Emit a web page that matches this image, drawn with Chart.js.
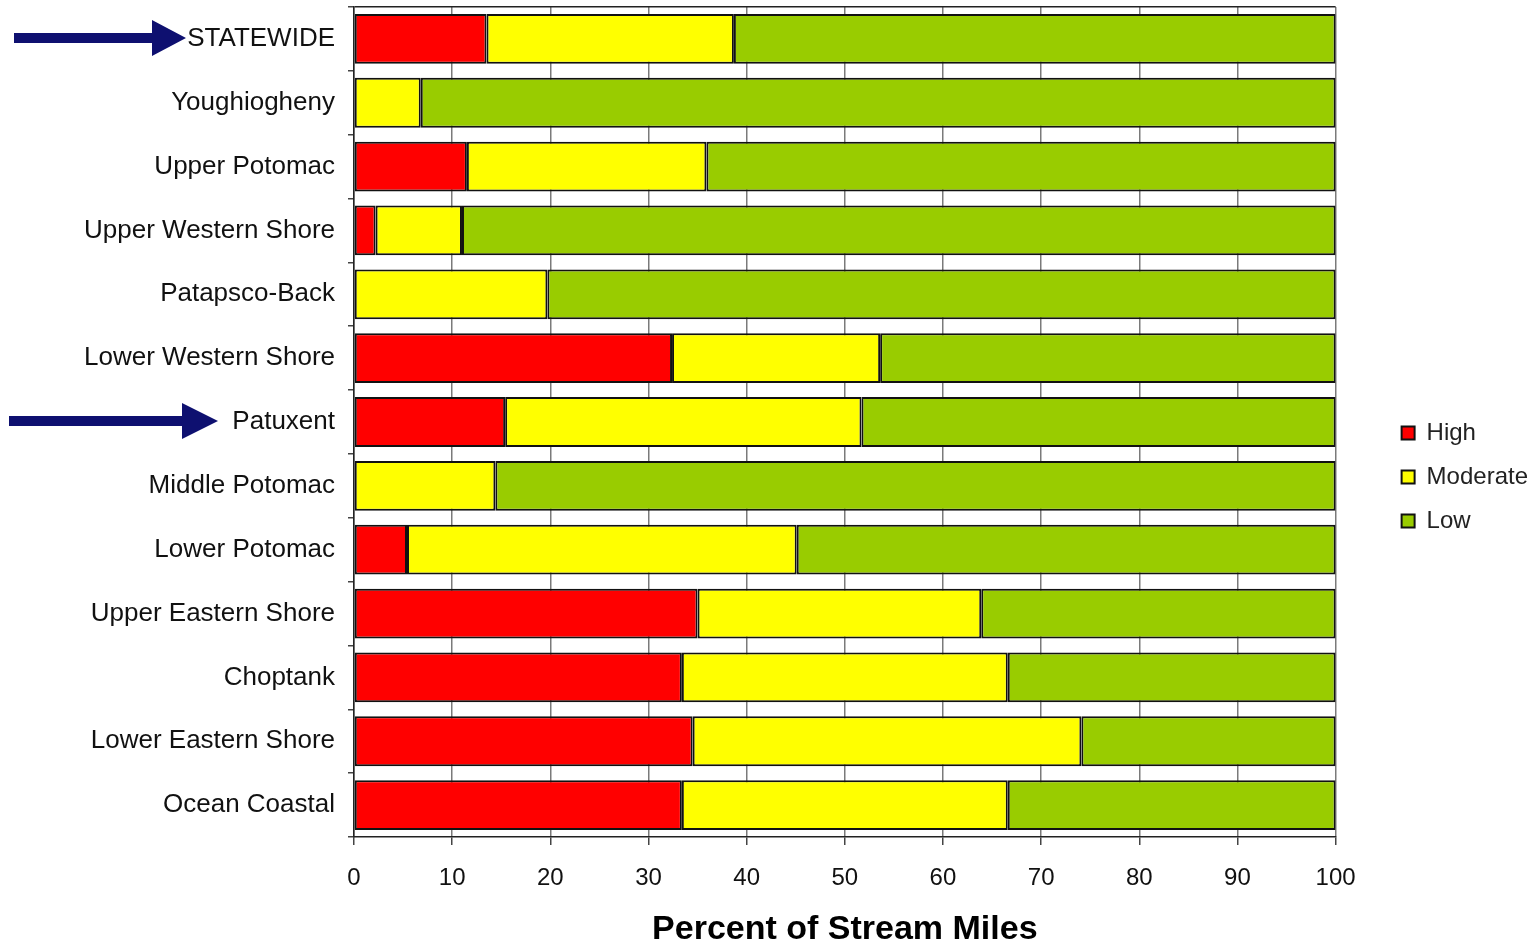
<!DOCTYPE html>
<html>
<head>
<meta charset="utf-8">
<script src="https://cdn.jsdelivr.net/npm/chart.js@4.4.1/dist/chart.umd.min.js"></script>
<style>
  html, body { margin: 0; padding: 0; background: #ffffff; }
  #wrap { width: 1538px; height: 947px; position: relative; }
</style>
</head>
<body>
<div id="wrap"><canvas id="c" width="1538" height="947"></canvas></div>
<script>
const categories = ['STATEWIDE','Youghiogheny','Upper Potomac','Upper Western Shore','Patapsco-Back','Lower Western Shore','Patuxent','Middle Potomac','Lower Potomac','Upper Eastern Shore','Choptank','Lower Eastern Shore','Ocean Coastal'];
const highValues     = [13.5, 0,    11.5, 2.2,  0,    32.4, 15.4, 0,    5.4,  35.0, 33.4, 34.5, 33.4];
const moderateValues = [25.2, 6.8,  24.4, 8.8,  19.7, 21.2, 36.3, 14.4, 39.7, 28.9, 33.2, 39.6, 33.2];
const lowValues      = [61.3, 93.2, 64.1, 89.0, 80.3, 46.4, 48.3, 85.6, 54.9, 36.1, 33.4, 25.9, 33.4];
const xTicks = [0,10,20,30,40,50,60,70,80,90,100];
const arrowedCategories = ['STATEWIDE', 'Patuxent'];

const FONT = "Arial, 'Liberation Sans', sans-serif";

const arrowPlugin = {
  id: 'arrows',
  afterDraw(chart) {
    const ctx = chart.ctx;
    const y = chart.scales.y;
    const specs = [
      {cat: arrowedCategories[0], x0: 14, x1: 186, head: 34},
      {cat: arrowedCategories[1], x0: 9, x1: 218, head: 36}
    ];
    ctx.save();
    ctx.fillStyle = '#0e1070';
    specs.forEach(s => {
      const cy = y.getPixelForValue(categories.indexOf(s.cat)) - 1;
      const shaft = 10, hh = 18;
      ctx.beginPath();
      ctx.moveTo(s.x0, cy - shaft/2);
      ctx.lineTo(s.x1 - s.head, cy - shaft/2);
      ctx.lineTo(s.x1 - s.head, cy - hh);
      ctx.lineTo(s.x1, cy);
      ctx.lineTo(s.x1 - s.head, cy + hh);
      ctx.lineTo(s.x1 - s.head, cy + shaft/2);
      ctx.lineTo(s.x0, cy + shaft/2);
      ctx.closePath();
      ctx.fill();
    });
    ctx.restore();
  }
};

new Chart(document.getElementById('c'), {
  type: 'bar',
  data: {
    labels: categories,
    datasets: [
      {label: 'High', data: highValues, backgroundColor: '#ff0000'},
      {label: 'Moderate', data: moderateValues, backgroundColor: '#ffff00'},
      {label: 'Low', data: lowValues, backgroundColor: '#99cc00'}
    ].map(d => Object.assign(d, {borderColor: '#111', borderWidth: 2, borderSkipped: false, barPercentage: 0.78, categoryPercentage: 1.0}))
  },
  options: {
    indexAxis: 'y',
    responsive: false,
    animation: false,
    layout: {padding: {top: 7, right: 0, bottom: 0, left: 0}},
    scales: {
      x: {
        stacked: true,
        min: 0, max: 100,
        afterBuildTicks: s => { s.ticks = xTicks.map(v => ({value: v})); },
        ticks: {font: {family: FONT, size: 24}, color: '#111', padding: 19, maxRotation: 0},
        grid: {color: '#7a7a7a', lineWidth: 1.5, tickLength: 8, tickColor: '#444'},
        border: {color: '#222', width: 1.5},
        title: {display: true, text: 'Percent of Stream Miles', font: {family: FONT, size: 34, weight: 'bold', lineHeight: 1.0}, color: '#000', padding: {top: 4, bottom: 0}},
        afterFit: s => { s.height = 110; }
      },
      y: {
        stacked: true,
        ticks: {font: {family: FONT, size: 26}, color: '#111', padding: 13},
        grid: {color: c => c.index === 0 ? '#222' : 'rgba(0,0,0,0)', lineWidth: 1.5, tickLength: 6, tickColor: '#444', offset: true},
        border: {color: '#222', width: 1.5},
        afterFit: s => { s.width = 354; s.paddingTop = 0; s.paddingBottom = 0; }
      },
      gap: {
        type: 'linear', position: 'right', display: true,
        grid: {display: false}, ticks: {display: false}, border: {display: false},
        afterFit: s => { s.width = 46; s.paddingTop = 0; s.paddingBottom = 0; }
      }
    },
    plugins: {
      legend: {
        position: 'right',
        align: 'center',
        labels: {font: {family: FONT, size: 24}, color: '#222', boxWidth: 13, boxHeight: 13, padding: 20}
      },
      tooltip: {enabled: false}
    }
  },
  plugins: [arrowPlugin]
});
</script>
</body>
</html>
